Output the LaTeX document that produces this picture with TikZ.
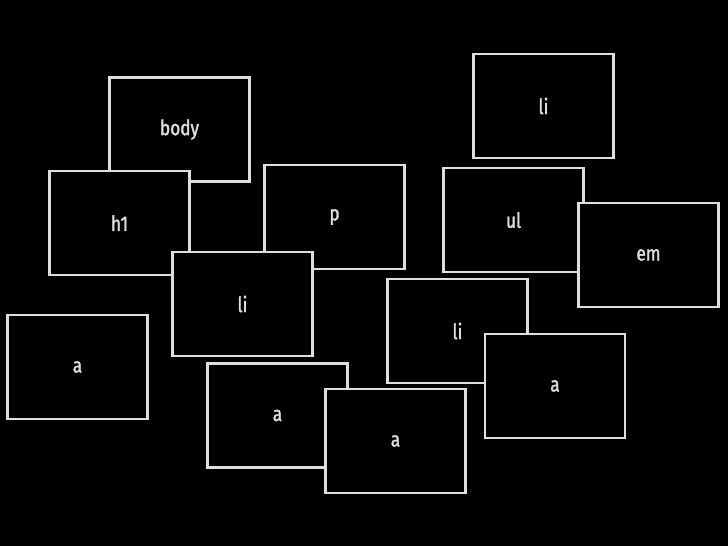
\documentclass[tikz,border=0pt]{standalone}
\usepackage{fontspec}
\setmainfont{Fira Sans}[FakeStretch=0.82, FakeBold=1.6]
\usetikzlibrary{positioning}
\definecolor{edge}{gray}{0.87}
\tikzset{tagbox/.style={rectangle, draw=edge, fill=black, line width=2.6pt, minimum width=140pt, minimum height=104pt, text=edge, font=\fontsize{21}{23}\selectfont}}

\begin{document}
\begin{tikzpicture}[x=1pt, y=-1pt]
		%%%%% START %%%%%
		
		\fill[black] (0, 0) rectangle (728, 546);
		
		\node[tagbox] (body) at (179.5, 129.5) {body};
		\node[tagbox] (hone) at (119.5, 223) {h1};
		\node[tagbox] (para) at (334.5, 217) {p};
		\node[tagbox] (litop) at (543.5, 106) {li};
		\node[tagbox] (ulist) at (513.5, 220) {ul};
		\node[tagbox] (emph) at (648.5, 255) {em};
		\node[tagbox] (limid) at (242.5, 304) {li};
		\node[tagbox] (aleft) at (77.5, 367) {a};
		\node[tagbox] (liright) at (457.5, 331) {li};
		\node[tagbox] (aright) at (555, 386) {a};
		\node[tagbox] (alow) at (277.5, 415.5) {a};
		\node[tagbox] (abottom) at (395.5, 441) {a};
		
		%%%%% END %%%%%
	\end{tikzpicture}
\end{document}
